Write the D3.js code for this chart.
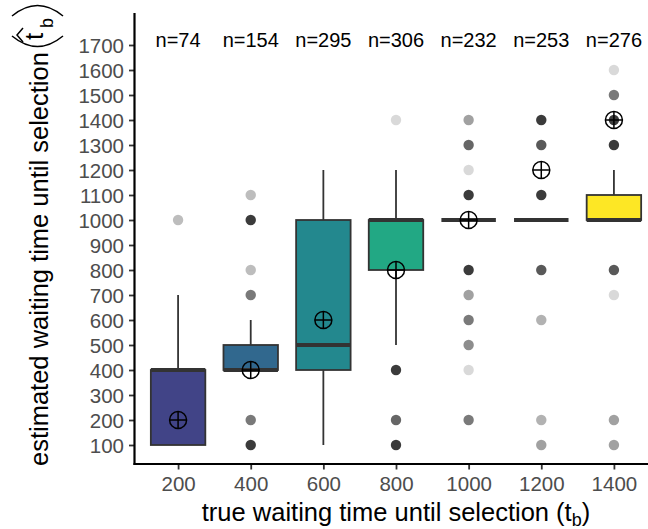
<!DOCTYPE html>
<html>
<head>
<meta charset="utf-8">
<script src="https://cdn.jsdelivr.net/npm/d3@7/dist/d3.min.js"></script>
<style>
  body { margin: 0; background: #fff; }
  svg { display: block; font-family: "Liberation Sans", Arial, sans-serif; }
</style>
</head>
<body>
<svg width="648" height="529"></svg>
<script>
// true waiting time groups
const categories = [200, 400, 600, 800, 1000, 1200, 1400];
const nCounts = [74, 154, 295, 306, 232, 253, 276];

// box statistics per group
const whiskerLow  = [100, 400, 100, 500, 1000, 1000, 1000];
const q1          = [100, 400, 400, 800, 1000, 1000, 1000];
const medians     = [400, 400, 500, 1000, 1000, 1000, 1000];
const q3          = [400, 500, 1000, 1000, 1000, 1000, 1100];
const whiskerHigh = [700, 600, 1200, 1200, 1000, 1000, 1200];
const means       = [200, 400, 600, 800, 1000, 1200, 1400];

// outliers: value and how dark the point looks
const outlierValues = [
  [1000],
  [1100, 1000, 800, 700, 200, 100],
  [],
  [1400, 400, 200, 100],
  [1400, 1300, 1200, 1100, 800, 700, 600, 500, 400, 200],
  [1400, 1300, 1100, 800, 600, 200, 100],
  [1600, 1500, 1400, 1300, 800, 700, 200, 100]
];
const outlierAlpha = [
  [0.32],
  [0.32, 0.96, 0.32, 0.66, 0.66, 0.96],
  [],
  [0.19, 0.96, 0.75, 0.96],
  [0.46, 0.75, 0.19, 0.96, 0.96, 0.46, 0.65, 0.56, 0.19, 0.65],
  [0.96, 0.81, 0.96, 0.81, 0.375, 0.375, 0.46],
  [0.19, 0.66, 0.96, 0.96, 0.81, 0.19, 0.46, 0.46]
];

const yTicks = d3.range(100, 1701, 100);

const svg = d3.select("svg");
const plotLeft = 134.5, plotBottom = 464, plotTop = 13;

const x = d3.scalePoint()
    .domain(categories)
    .range([plotLeft, 657.5])
    .padding(0.6);
const y = d3.scaleLinear()
    .domain([24, 1828])
    .range([plotBottom, plotTop]);

const boxW = x.step() * 0.75;
const fill = d3.scaleOrdinal()
    .domain(categories)
    .range(categories.map((d, i) => d3.interpolateViridis(0.2 + i * 0.8 / 6)));

// boxes, whiskers, outliers
const g = svg.append("g");
categories.forEach((c, i) => {
  const cx = x(c);
  g.append("line")
      .attr("x1", cx).attr("x2", cx)
      .attr("y1", y(whiskerHigh[i])).attr("y2", y(q3[i]))
      .attr("stroke", "#333").attr("stroke-width", 1.8);
  g.append("line")
      .attr("x1", cx).attr("x2", cx)
      .attr("y1", y(q1[i])).attr("y2", y(whiskerLow[i]))
      .attr("stroke", "#333").attr("stroke-width", 1.8);
  g.append("rect")
      .attr("x", cx - boxW / 2)
      .attr("y", y(q3[i]))
      .attr("width", boxW)
      .attr("height", y(q1[i]) - y(q3[i]))
      .attr("fill", fill(c))
      .attr("stroke", "#333").attr("stroke-width", 1.8);
  g.append("line")
      .attr("x1", cx - boxW / 2).attr("x2", cx + boxW / 2)
      .attr("y1", y(medians[i])).attr("y2", y(medians[i]))
      .attr("stroke", "#333").attr("stroke-width", 3.8);

  outlierValues[i].forEach((v, j) => {
    g.append("circle")
        .attr("cx", cx).attr("cy", y(v)).attr("r", 5.2)
        .attr("fill", "#333")
        .attr("fill-opacity", outlierAlpha[i][j]);
  });
});

// means as crossed circles
const mg = svg.append("g");
categories.forEach((c, i) => {
  const cx = x(c), cy = y(means[i]), r = 8.5;
  mg.append("circle")
      .attr("cx", cx).attr("cy", cy).attr("r", r)
      .attr("fill", "none").attr("stroke", "#000").attr("stroke-width", 1.5);
  mg.append("path")
      .attr("d", `M${cx - r},${cy}H${cx + r}M${cx},${cy - r}V${cy + r}`)
      .attr("stroke", "#000").attr("stroke-width", 1.5);
});

// n labels
svg.append("g").selectAll("text")
  .data(categories)
  .join("text")
    .attr("x", d => x(d))
    .attr("y", 47)
    .attr("text-anchor", "middle")
    .attr("font-size", 20)
    .attr("fill", "#000")
    .text((d, i) => "n=" + nCounts[i]);

// axes
const yAxis = svg.append("g")
    .attr("transform", `translate(${plotLeft},0)`)
    .call(d3.axisLeft(y).tickValues(yTicks).tickFormat(d3.format("d"))
      .tickSize(5.5).tickPadding(5));
const xAxis = svg.append("g")
    .attr("transform", `translate(0,${plotBottom})`)
    .call(d3.axisBottom(x).tickSize(5.5).tickPadding(6));

[yAxis, xAxis].forEach(a => {
  a.select(".domain").remove();
  a.selectAll(".tick line").attr("stroke", "#333").attr("stroke-width", 1.8);
  a.selectAll(".tick text")
      .attr("fill", "#4d4d4d")
      .attr("font-size", 20.5)
      .attr("font-family", "Liberation Sans, Arial, sans-serif");
});
yAxis.selectAll(".tick text").attr("dy", "0.36em");
xAxis.selectAll(".tick text").attr("dy", "0.78em");

svg.append("line")
    .attr("x1", plotLeft).attr("x2", plotLeft)
    .attr("y1", plotTop).attr("y2", plotBottom + 1)
    .attr("stroke", "#000").attr("stroke-width", 2.2);
svg.append("line")
    .attr("x1", plotLeft - 1).attr("x2", 648)
    .attr("y1", plotBottom).attr("y2", plotBottom)
    .attr("stroke", "#000").attr("stroke-width", 2.2);

// x axis title
const xt = svg.append("text")
    .attr("x", 396).attr("y", 521)
    .attr("text-anchor", "middle")
    .attr("font-size", 25.5)
    .attr("fill", "#000");
xt.append("tspan").text("true waiting time until selection (t");
xt.append("tspan").attr("font-size", 18).attr("dy", 5).text("b");
xt.append("tspan").attr("dy", -5).text(")");

// y axis title, rotated, with hat(t_b) in big parentheses
const yt = svg.append("g").attr("transform", "translate(48,0) rotate(-90)");
yt.append("text")
    .attr("x", -466).attr("y", 0)
    .attr("font-size", 25.5)
    .attr("fill", "#000")
    .text("estimated waiting time until selection");
yt.append("path")
    .attr("d", "M-36,-36 Q-57,-10.5 -36,15")
    .attr("fill", "none").attr("stroke", "#000").attr("stroke-width", 1.5);
yt.append("path")
    .attr("d", "M-16,-36 Q5,-10.5 -16,15")
    .attr("fill", "none").attr("stroke", "#000").attr("stroke-width", 1.5);
yt.append("text")
    .attr("x", -40).attr("y", -5)
    .attr("font-size", 25.5)
    .text("t");
yt.append("path")
    .attr("d", "M-42,-25 L-35,-31 L-28,-25")
    .attr("fill", "none").attr("stroke", "#000").attr("stroke-width", 1.5);
yt.append("text")
    .attr("x", -28).attr("y", 5)
    .attr("font-size", 18)
    .text("b");
</script>
</body>
</html>
